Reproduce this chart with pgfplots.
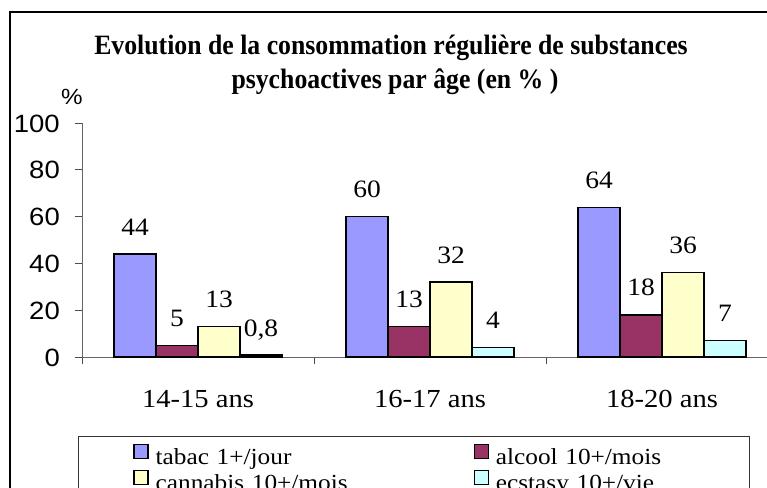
\documentclass[border=0pt]{standalone}
\usepackage{fontspec}
\setmainfont[FakeStretch=1.1]{Liberation Serif}
\setsansfont[FakeStretch=1.1]{Liberation Sans}
\newfontfamily\titlefont[FakeStretch=0.92]{Liberation Serif}
\usepackage{pgfplots}
\pgfplotsset{compat=1.18}
\definecolor{ctabac}{HTML}{9999FF}
\definecolor{calcool}{HTML}{993366}
\definecolor{ccannabis}{HTML}{FFFFCC}
\definecolor{cecstasy}{HTML}{CCFFFF}
\begin{document}
\begin{tikzpicture}
\useasboundingbox[fill=white] (0,0) rectangle (767bp,-488bp);
\draw[line width=2bp] (10bp,-500bp) -- (10bp,-12bp) -- (780bp,-12bp);
\node[anchor=base, font=\titlefont\bfseries\fontsize{28bp}{30bp}\selectfont] at (391bp,-54bp) {Evolution de la consommation régulière de substances};
\node[anchor=base, font=\titlefont\bfseries\fontsize{28bp}{30bp}\selectfont] at (395bp,-88bp) {psychoactives par âge (en \% )};
\node[font=\sffamily\fontsize{22bp}{24bp}\selectfont] at (72bp,-97bp) {\%};
\begin{axis}[
  at={(82bp,-357bp)}, anchor=south west,
  scale only axis, width=685bp, height=234bp,
  xmin=-0.5, xmax=2.4526, ymin=0, ymax=100,
  clip=false,
  axis x line*=bottom, axis y line*=left,
  axis line style={draw=black!60, line width=1bp},
  tick align=outside,
  major tick length=7bp,
  tick style={draw=black!70, line width=1bp},
  xtick={-0.5,0.5,1.5}, xticklabels={},
  extra x ticks={0,1,2},
  extra x tick labels={14-15 ans,16-17 ans,18-20 ans},
  extra x tick style={major tick length=0pt, tick label style={anchor=base, yshift=-50bp, font=\rmfamily\fontsize{26bp}{28bp}\selectfont}},
  ytick={0,20,40,60,80,100},
  yticklabel style={font=\sffamily\fontsize{25bp}{27bp}\selectfont, anchor=base east, inner xsep=0pt, xshift=-15bp, yshift=-9bp},
  /pgf/number format/assume math mode=true,
  /pgf/number format/use comma,
  ybar=0pt, bar width=42bp,
  every axis plot/.append style={draw=black, line width=1.3bp},
  nodes near coords,
  nodes near coords align={anchor=base, yshift=19bp},
  every node near coord/.append style={font=\rmfamily\fontsize{25bp}{27bp}\selectfont, text=black},
  legend columns=2,
  legend cell align=left,
  legend style={at={(axis description cs:-0.00584,-0.3376)}, anchor=north west, draw=black!80, line width=1bp, inner xsep=55bp, inner ysep=7bp, column sep=0pt, font=\rmfamily\fontsize{23bp}{25bp}\selectfont, nodes={text width=192bp, inner xsep=7bp, text height=16bp, text depth=5bp, inner ysep=1bp, align=left}, /tikz/every even column/.append style={column sep=119bp}},
  legend image code/.code={\draw[#1, draw=black, line width=1.2bp] (0bp,0.5bp) rectangle (14bp,14.5bp);},
]
\addplot[fill=ctabac] coordinates {(0,44) (1,60) (2,64)};
\addplot[fill=calcool] coordinates {(0,5) (1,13) (2,18)};
\addplot[fill=ccannabis] coordinates {(0,13) (1,32) (2,36)};
\addplot[fill=cecstasy] coordinates {(0,0.8) (1,4) (2,7)};
\legend{tabac 1+/jour, alcool 10+/mois, cannabis 10+/mois, ecstasy 10+/vie}
\end{axis}
\end{tikzpicture}
\end{document}
